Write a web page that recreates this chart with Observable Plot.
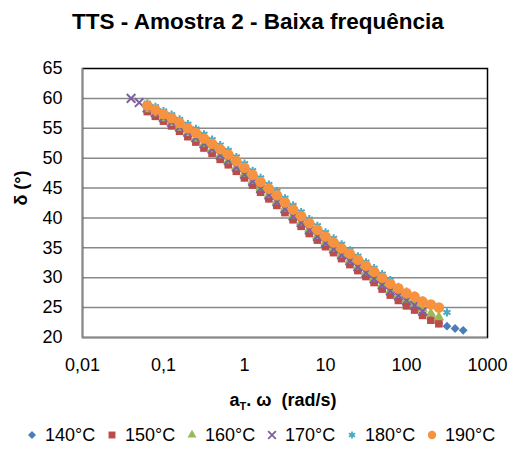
<!DOCTYPE html>
<html><head><meta charset="utf-8">
<script src="https://cdn.jsdelivr.net/npm/d3@7"></script>
<script src="https://cdn.jsdelivr.net/npm/@observablehq/plot@0.6"></script>
<style>
body{margin:0;background:#fff;font-family:"Liberation Sans",Arial,sans-serif;}
#wrap{position:relative;width:513px;height:450px;overflow:hidden;background:#fff}
#legend{position:absolute;left:0;top:420px;width:513px;height:30px;display:flex;align-items:center;padding-left:25px;box-sizing:border-box;font-size:18px;color:#000}
.item{display:flex;align-items:center;margin-right:10px}
.item svg{margin-right:6px;display:block}
.item span{width:50px;white-space:nowrap}
</style></head><body>
<div id="wrap"><div id="chart"></div><div id="legend"></div></div>
<script>
const title = "TTS - Amostra 2 - Baixa frequência";
const yLabel = "δ (°)";
const xLabelMain = "a";
const xLabelSub = "T";
const xLabelRest = ". ω  (rad/s)";
const seriesNames = ["140°C", "150°C", "160°C", "170°C", "180°C", "190°C"];
const colors = ["#4A7EBB", "#BE4B48", "#98B954", "#7D60A0", "#46AAC5", "#F69240"];
const xTicks = [0.01, 0.1, 1, 10, 100, 1000];
const xTickLabels = ["0,01", "0,1", "1", "10", "100", "1000"];
const yTicks = [20, 25, 30, 35, 40, 45, 50, 55, 60, 65];

// aT.ω (rad/s)
const freq = [0.0398,0.0501,0.0631,0.0794,0.1,0.126,0.158,0.2,0.251,0.316,0.398,0.501,0.631,0.794,1,1.26,1.58,2,2.51,3.16,3.98,5.01,6.31,7.94,10,12.6,15.8,20,25.1,31.6,39.8,50.1,63.1,79.4,100,126,158,200,251,316,398,501];

const d140 = [null,null,57.9,57.1,56.3,55.5,54.6,53.7,52.8,51.8,50.9,49.9,49.0,47.9,46.8,45.6,44.4,43.3,42.2,41.0,39.8,38.7,37.5,36.4,35.3,34.3,33.3,32.3,31.3,30.3,29.3,28.2,27.2,26.3,25.4,24.7,23.8,23.0,22.4,21.9,21.5,21.2];
const d150 = [null,null,57.8,57.0,56.2,55.4,54.5,53.6,52.7,51.7,50.8,49.8,48.9,47.8,46.7,45.5,44.3,43.2,42.1,40.9,39.7,38.6,37.4,36.3,35.2,34.2,33.2,32.2,31.2,30.2,29.2,28.1,27.1,26.2,25.3,24.6,23.7,22.9,22.3,null,null,null];
const d160 = [null,null,58.2,57.5,56.7,55.9,55.1,54.2,53.3,52.4,51.5,50.5,49.6,48.5,47.4,46.2,45.0,43.9,42.8,41.6,40.4,39.3,38.1,37.0,35.9,34.9,33.9,32.9,31.9,30.9,29.9,28.9,27.9,27.1,26.3,25.6,24.8,24.0,23.4,null,null,null];
const d170 = [60.0,59.3,58.4,57.6,56.8,56.0,55.2,54.3,53.4,52.4,51.5,50.5,49.6,48.5,47.3,46.1,44.9,43.8,42.7,41.5,40.3,39.2,38.0,36.9,35.8,34.8,33.8,32.8,31.8,30.8,29.8,28.8,27.8,27.0,26.2,25.4,24.4,null,null,null,null,null];
const d180 = [null,null,59.2,58.6,57.9,57.3,56.5,55.7,54.9,54.0,53.1,52.2,51.3,50.2,49.1,47.9,46.7,45.6,44.5,43.3,42.1,41.0,39.8,38.7,37.6,36.6,35.6,34.6,33.6,32.6,31.6,30.6,29.6,28.5,27.7,27.0,26.2,25.6,25.0,24.2,null,null];
const d190 = [null,null,58.8,58.1,57.4,56.7,55.9,55.0,54.2,53.3,52.4,51.5,50.6,49.5,48.4,47.2,46.0,44.9,43.8,42.6,41.4,40.3,39.1,38.0,36.9,35.9,34.9,34.0,33.0,32.0,31.0,30.0,29.0,28.2,27.4,26.8,26.0,25.5,25.0,null,null,null];

const series = [
  {name: seriesNames[0], values: d140, symbol: "diamond2", color: colors[0], r: 4.0, lr: 3.6, filled: true},
  {name: seriesNames[1], values: d150, symbol: "square", color: colors[1], r: 4.3, lr: 3.9, filled: true},
  {name: seriesNames[2], values: d160, symbol: "triangle", color: colors[2], r: 3.9, lr: 3.3, filled: true},
  {name: seriesNames[3], values: d170, symbol: "times", color: colors[3], r: 4.0, lr: 3.6, filled: false},
  {name: seriesNames[4], values: d180, symbol: "asterisk", color: colors[4], r: 3.8, lr: 3.4, filled: false},
  {name: seriesNames[5], values: d190, symbol: "circle", color: colors[5], r: 5.3, lr: 4.2, filled: true}
];
const rowsOf = s => s.values.map((v, i) => ({f: freq[i], d: v, s: s.name})).filter(p => p.d != null);

const gridColor = "#898989";
const chart = Plot.plot({
  width: 513, height: 420,
  marginLeft: 82, marginRight: 26, marginTop: 68, marginBottom: 83,
  style: {fontFamily: "'Liberation Sans', Arial, sans-serif", fontSize: "18px", color: "#000", background: "#fff", overflow: "visible"},
  x: {type: "log", domain: [0.01, 1000], ticks: xTicks, tickFormat: d => xTickLabels[xTicks.indexOf(d)], tickSize: 0, tickPadding: 21, label: null},
  y: {domain: [20, 65], ticks: yTicks, tickSize: 0, tickPadding: 20, label: null},
  marks: [
    Plot.ruleY(yTicks.filter(t => t > 20 && t < 65), {stroke: gridColor, strokeWidth: 1.5}),
    Plot.frame({stroke: "#000", strokeWidth: 1.5}),
    Plot.ruleX([xTicks[0]], {stroke: gridColor, strokeWidth: 1.5}),
    Plot.ruleY([yTicks[0]], {stroke: gridColor, strokeWidth: 1.5}),
    ...series.map(s => Plot.dot(rowsOf(s), {
      x: "f", y: "d", symbol: s.symbol, r: s.r,
      fill: s.filled ? s.color : "none",
      stroke: s.filled ? "none" : s.color,
      strokeWidth: s.filled ? 0 : 2
    }))
  ]
});
document.getElementById("chart").appendChild(chart);

const svg = d3.select(chart);
svg.append("text").attr("x", 258).attr("y", 29).attr("text-anchor", "middle")
  .attr("font-weight", "bold").attr("font-size", 22.5).attr("fill", "#000").text(title);
const xl = svg.append("text").attr("x", 283).attr("y", 406).attr("text-anchor", "middle")
  .attr("font-weight", "bold").attr("font-size", 18).attr("fill", "#000");
xl.append("tspan").text(xLabelMain);
xl.append("tspan").attr("font-size", 11).attr("dy", 4).text(xLabelSub);
xl.append("tspan").attr("dy", -4).text(xLabelRest);
svg.append("text").attr("transform", "translate(27,188) rotate(-90)").attr("text-anchor", "middle")
  .attr("font-weight", "bold").attr("font-size", 18).attr("fill", "#000").text(yLabel);

const symMap = {diamond2: d3.symbolDiamond2, square: d3.symbolSquare, triangle: d3.symbolTriangle, times: d3.symbolTimes, asterisk: d3.symbolAsterisk, circle: d3.symbolCircle};
const legend = d3.select("#legend");
series.forEach(s => {
  const it = legend.append("div").attr("class", "item");
  const sv = it.append("svg").attr("width", 14).attr("height", 14);
  sv.append("path").attr("transform", "translate(7,7)")
    .attr("d", d3.symbol(symMap[s.symbol], Math.PI * s.lr * s.lr)())
    .attr("fill", s.filled ? s.color : "none")
    .attr("stroke", s.filled ? "none" : s.color)
    .attr("stroke-width", s.filled ? 0 : 1.8);
  it.append("span").text(s.name);
});
</script>
</body></html>
